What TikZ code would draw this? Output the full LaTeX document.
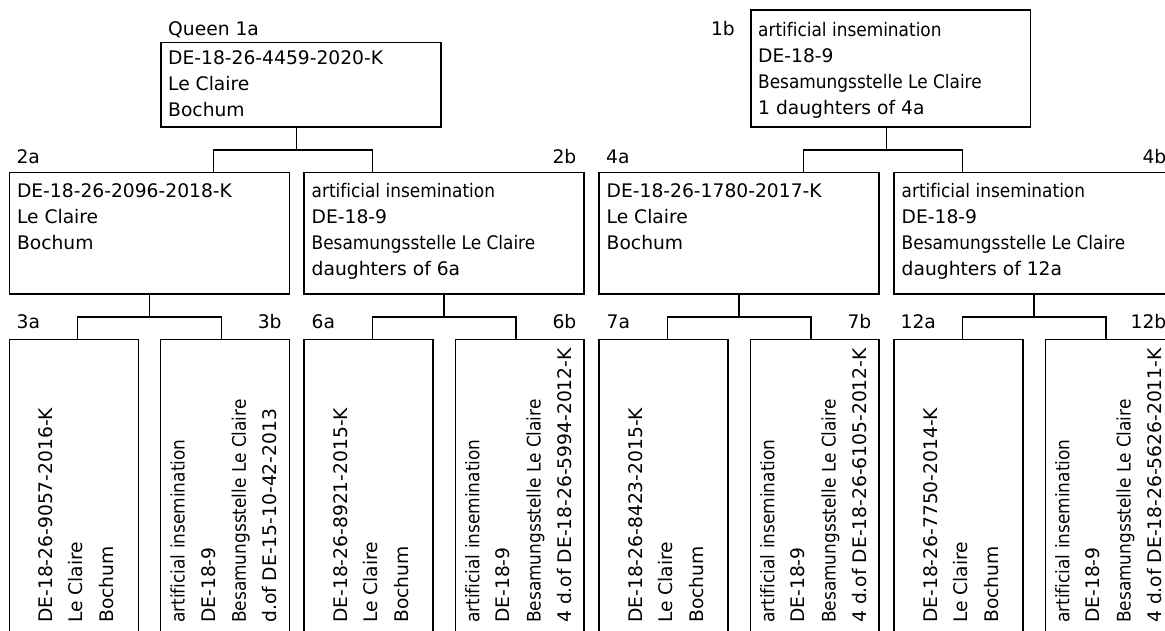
\documentclass[tikz,border=0pt]{standalone}
\usepackage{fontspec}
\usepackage{graphicx}
\setmainfont{DejaVu Sans}[Ligatures=NoCommon]
\newcommand\cnd[1]{\scalebox{0.906}[1]{#1}}
\begin{document}
\begin{tikzpicture}[x=1pt,y=-1pt,
  box/.style={draw, line width=1.2pt, rectangle, inner sep=0pt, outer sep=0pt, anchor=north west},
  txt/.style={anchor=base west, inner sep=0pt, font=\fontsize{18.7}{26}\selectfont},
  vtxt/.style={anchor=base west, inner sep=0pt, rotate=90, font=\fontsize{18.7}{30.6}\selectfont},
  lbl/.style={inner sep=0pt, font=\fontsize{18.7}{22}\selectfont},
  link/.style={line width=1.2pt}]
\useasboundingbox (0,0) rectangle (1165,630);
\clip (0,0) rectangle (1165,630);

% ---------- level 1 ----------
\node[box, minimum width=280, minimum height=84.3] (n1a) at (161,42.7) {};
\node[lbl, anchor=base west] (l1a) at (168,35) {Queen 1a};
\node[txt] (t1a) at (168,64) {\parbox[t]{300pt}{DE-18-26-4459-2020-K\\Le Claire\\Bochum}};

\node[box, minimum width=279.5, minimum height=117] (n1b) at (751,10) {};
\node[lbl, anchor=base east] (l1b) at (735,35) {1b};
\node[txt] (t1b) at (758,36) {\parbox[t]{300pt}{\cnd{artificial insemination}\\DE-18-9\\\cnd{Besamungsstelle Le Claire}\\1 daughters of 4a}};

% ---------- level 2 ----------
\node[box, minimum width=280, minimum height=121.5] (n2a) at (9.3,172.5) {};
\node[lbl, anchor=base west] (l2a) at (16.3,163.5) {2a};
\node[txt] (t2a) at (16.8,197.5) {\parbox[t]{260pt}{DE-18-26-2096-2018-K\\Le Claire\\Bochum}};

\node[box, minimum width=280, minimum height=121.5] (n2b) at (304,172.5) {};
\node[lbl, anchor=base east] (l2b) at (576.5,163.5) {2b};
\node[txt] (t2b) at (311.5,197.5) {\parbox[t]{260pt}{\cnd{artificial insemination}\\DE-18-9\\\cnd{Besamungsstelle Le Claire}\\daughters of 6a}};

\node[box, minimum width=280, minimum height=121.5] (n4a) at (599,172.5) {};
\node[lbl, anchor=base west] (l4a) at (606,163.5) {4a};
\node[txt] (t4a) at (606.5,197.5) {\parbox[t]{260pt}{DE-18-26-1780-2017-K\\Le Claire\\Bochum}};

\node[box, minimum width=280, minimum height=121.5] (n4b) at (894,172.5) {};
\node[lbl, anchor=base east] (l4b) at (1166.5,163.5) {4b};
\node[txt] (t4b) at (901.5,197.5) {\parbox[t]{260pt}{\cnd{artificial insemination}\\DE-18-9\\\cnd{Besamungsstelle Le Claire}\\daughters of 12a}};

% ---------- level 3 ----------
\node[box, minimum width=129, minimum height=400] (n3a) at (9.3,339.2) {};
\node[lbl, anchor=base west] (l3a) at (16.5,328.8) {3a};
\node[vtxt] (t3a) at (52.3,623) {\parbox[t]{300pt}{DE-18-26-9057-2016-K\\Le Claire\\Bochum}};

\node[box, minimum width=128.7, minimum height=400] (n3b) at (160.6,339.2) {};
\node[lbl, anchor=base east] (l3b) at (281.8,328.8) {3b};
\node[vtxt] (t3b) at (184.6,623) {\parbox[t]{300pt}{\cnd{artificial insemination}\\DE-18-9\\\cnd{Besamungsstelle Le Claire}\\d.of DE-15-10-42-2013}};

\node[box, minimum width=129, minimum height=400] (n6a) at (304,339.2) {};
\node[lbl, anchor=base west] (l6a) at (311.5,328.8) {6a};
\node[vtxt] (t6a) at (347,623) {\parbox[t]{300pt}{DE-18-26-8921-2015-K\\Le Claire\\Bochum}};

\node[box, minimum width=128.7, minimum height=400] (n6b) at (455.3,339.2) {};
\node[lbl, anchor=base east] (l6b) at (576.5,328.8) {6b};
\node[vtxt] (t6b) at (479.3,623) {\parbox[t]{300pt}{\cnd{artificial insemination}\\DE-18-9\\\cnd{Besamungsstelle Le Claire}\\4 d.of DE-18-26-5994-2012-K}};

\node[box, minimum width=129, minimum height=400] (n7a) at (599,339.2) {};
\node[lbl, anchor=base west] (l7a) at (606.5,328.8) {7a};
\node[vtxt] (t7a) at (642,623) {\parbox[t]{300pt}{DE-18-26-8423-2015-K\\Le Claire\\Bochum}};

\node[box, minimum width=128.7, minimum height=400] (n7b) at (750.3,339.2) {};
\node[lbl, anchor=base east] (l7b) at (871.5,328.8) {7b};
\node[vtxt] (t7b) at (774.3,623) {\parbox[t]{300pt}{\cnd{artificial insemination}\\DE-18-9\\\cnd{Besamungsstelle Le Claire}\\4 d.of DE-18-26-6105-2012-K}};

\node[box, minimum width=129, minimum height=400] (n12a) at (894,339.2) {};
\node[lbl, anchor=base west] (l12a) at (900.5,328.8) {12a};
\node[vtxt] (t12a) at (937,623) {\parbox[t]{300pt}{DE-18-26-7750-2014-K\\Le Claire\\Bochum}};

\node[box, minimum width=128.7, minimum height=400] (n12b) at (1045.3,339.2) {};
\node[lbl, anchor=base east] (l12b) at (1166.5,328.8) {12b};
\node[vtxt] (t12b) at (1069.3,623) {\parbox[t]{300pt}{\cnd{artificial insemination}\\DE-18-9\\\cnd{Besamungsstelle Le Claire}\\4 d.of DE-18-26-5626-2011-K}};

% ---------- connectors ----------
\draw[link] ([xshift=-4.3]n1a.south) -- ++(0,23) coordinate (j1a);
\draw[link] ([xshift=204.4]n2a.north west) |- (j1a) -| ([xshift=68.3]n2b.north west);
\draw[link] ([xshift=-4]n1b.south) -- ++(0,23) coordinate (j1b);
\draw[link] ([xshift=204.4]n4a.north west) |- (j1b) -| ([xshift=68.3]n4b.north west);

\draw[link] (n2a.south) -- ++(0,23) coordinate (j2a);
\draw[link] ([xshift=68.3]n3a.north west) |- (j2a) -| ([xshift=60.7]n3b.north west);
\draw[link] (n2b.south) -- ++(0,23) coordinate (j2b);
\draw[link] ([xshift=68.3]n6a.north west) |- (j2b) -| ([xshift=60.7]n6b.north west);
\draw[link] (n4a.south) -- ++(0,23) coordinate (j4a);
\draw[link] ([xshift=68.3]n7a.north west) |- (j4a) -| ([xshift=60.7]n7b.north west);
\draw[link] (n4b.south) -- ++(0,23) coordinate (j4b);
\draw[link] ([xshift=68.3]n12a.north west) |- (j4b) -| ([xshift=60.7]n12b.north west);
\end{tikzpicture}
\end{document}
